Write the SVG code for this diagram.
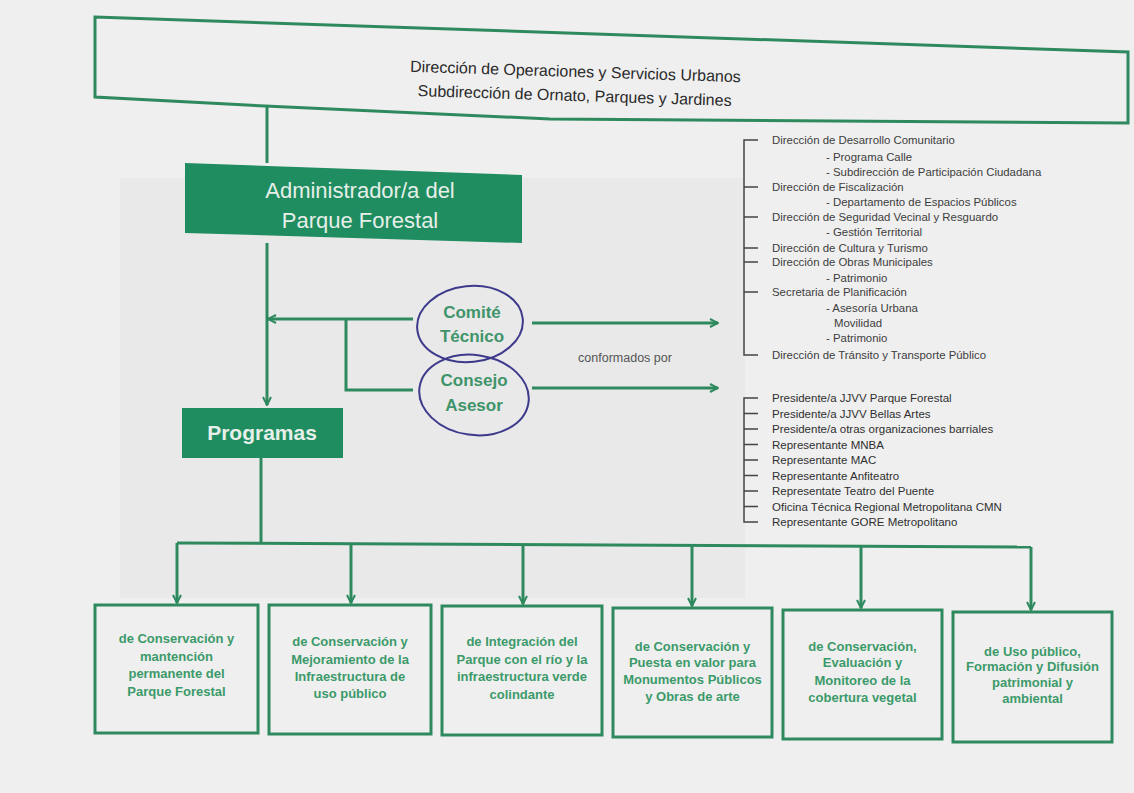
<svg xmlns="http://www.w3.org/2000/svg" width="1134" height="793" viewBox="0 0 1134 793">
<defs>
<style>
.ln{fill:none;stroke:#2e8a5e;stroke-width:3}
.box{fill:none;stroke:#2e8a5e;stroke-width:3}
.fill{fill:#1f8d60}
.bt{font-family:"Liberation Sans",Arial,sans-serif;font-size:13px;font-weight:bold;fill:#3c9a6a;text-anchor:middle}
.wt{font-family:"Liberation Sans",Arial,sans-serif;fill:#e6efe9;text-anchor:middle}
.gt{font-family:"Liberation Sans",Arial,sans-serif;font-size:17px;font-weight:bold;fill:#3f946a;text-anchor:middle}
.lt{font-family:"Liberation Sans",Arial,sans-serif;font-size:11.4px;fill:#3d3d3d}
.lt2{font-family:"Liberation Sans",Arial,sans-serif;font-size:11.5px;fill:#2f2f2f}
.br{fill:none;stroke:#444;stroke-width:1.5}
.circ{fill:none;stroke:#3d3a8c;stroke-width:2}
</style>
<marker id="arr" viewBox="0 0 10 10" refX="9" refY="5" markerWidth="10" markerHeight="10" markerUnits="userSpaceOnUse" orient="auto">
<path d="M1,1 L9,5 L1,9" fill="none" stroke="#2e8a5e" stroke-width="2"/>
</marker>
</defs>
<rect x="0" y="0" width="1134" height="793" fill="#efefef"/>
<rect x="120" y="178" width="625" height="420" fill="#e9e9e9"/>

<g id="top">
<path class="box" d="M95,17 L1128,52 L1128,123 L550,119 L265,106 L95,97 Z"/>
<g transform="rotate(1.8 575 85)" font-family="'Liberation Sans',Arial,sans-serif" font-size="16" fill="#2a2a2a" text-anchor="middle">
<text x="575" y="77">Dirección de Operaciones y Servicios Urbanos</text>
<text x="575" y="101">Subdirección de Ornato, Parques y Jardines</text>
</g>
</g>

<g id="admin">
<path class="fill" d="M185,163 L522,175 L522,243 L185,233 Z"/>
<text class="wt" x="360" y="198" font-size="22">Administrador/a del</text>
<text class="wt" x="360" y="228" font-size="22">Parque Forestal</text>
</g>

<g id="programas">
<rect class="fill" x="182" y="408" width="161" height="50"/>
<text class="wt" x="262" y="440" font-size="21" font-weight="bold">Programas</text>
</g>

<g id="comite">
<text class="gt" x="472" y="318">Comité</text>
<text class="gt" x="472" y="342">Técnico</text>
<ellipse class="circ" cx="470" cy="324" rx="53" ry="38" transform="rotate(-6 470 324)"/>
</g>

<g id="consejo">
<text class="gt" x="474" y="386">Consejo</text>
<text class="gt" x="474" y="411">Asesor</text>
<ellipse class="circ" cx="474" cy="395" rx="55" ry="40" transform="rotate(8 474 395)"/>
</g>

<g id="connectors">
<path class="ln" d="M267,106 V163"/>
<path class="ln" d="M267,243 V405" marker-end="url(#arr)"/>
<path class="ln" d="M413,319 H268" marker-end="url(#arr)"/>
<path class="ln" d="M346,319 V390 H413"/>
<path class="ln" d="M532,323 H718" marker-end="url(#arr)"/>
<path class="ln" d="M532,388 H718" marker-end="url(#arr)"/>
<path class="ln" d="M261,458 V543"/>
<path class="ln" d="M177,543 L1031,547"/>
<path class="ln" d="M177,543 V603" marker-end="url(#arr)"/>
<path class="ln" d="M351,543.8 V603" marker-end="url(#arr)"/>
<path class="ln" d="M523,544.6 V604" marker-end="url(#arr)"/>
<path class="ln" d="M692,545.4 V606" marker-end="url(#arr)"/>
<path class="ln" d="M861,546.2 V608" marker-end="url(#arr)"/>
<path class="ln" d="M1031,547 V610" marker-end="url(#arr)"/>
</g>

<text x="625" y="362" font-family="'Liberation Sans',Arial,sans-serif" font-size="12.5" fill="#555" text-anchor="middle">conformados por</text>

<g id="lista-comite">
<path class="br" d="M758,140 H744 V355 H758 M744,187 H758 M744,217 H758 M744,248 H758 M744,262 H758 M744,292 H758"/>
<text class="lt" x="772" y="144">Dirección de Desarrollo Comunitario</text>
<text class="lt" x="826" y="161">- Programa Calle</text>
<text class="lt" x="826" y="176">- Subdirección de Participación Ciudadana</text>
<text class="lt" x="772" y="191">Dirección de Fiscalización</text>
<text class="lt" x="826" y="206">- Departamento de Espacios Públicos</text>
<text class="lt" x="772" y="221">Dirección de Seguridad Vecinal y Resguardo</text>
<text class="lt" x="826" y="236">- Gestión Territorial</text>
<text class="lt" x="772" y="252">Dirección de Cultura y Turismo</text>
<text class="lt" x="772" y="266">Dirección de Obras Municipales</text>
<text class="lt" x="826" y="282">- Patrimonio</text>
<text class="lt" x="772" y="296">Secretaria de Planificación</text>
<text class="lt" x="826" y="312">- Asesoría Urbana</text>
<text class="lt" x="834" y="327">Movilidad</text>
<text class="lt" x="826" y="342">- Patrimonio</text>
<text class="lt" x="772" y="359">Dirección de Tránsito y Transporte Público</text>
</g>

<g id="lista-consejo">
<path class="br" d="M758,398 H744 V522 H758 M744,413.5 H758 M744,429 H758 M744,444.5 H758 M744,460 H758 M744,475.5 H758 M744,491 H758 M744,506.5 H758"/>
<text class="lt2" x="772" y="402">Presidente/a JJVV Parque Forestal</text>
<text class="lt2" x="772" y="417.5">Presidente/a JJVV Bellas Artes</text>
<text class="lt2" x="772" y="433">Presidente/a otras organizaciones barriales</text>
<text class="lt2" x="772" y="448.5">Representante MNBA</text>
<text class="lt2" x="772" y="464">Representante MAC</text>
<text class="lt2" x="772" y="479.5">Representante Anfiteatro</text>
<text class="lt2" x="772" y="495">Representate Teatro del Puente</text>
<text class="lt2" x="772" y="510.5">Oficina Técnica Regional Metropolitana CMN</text>
<text class="lt2" x="772" y="526">Representante GORE Metropolitano</text>
</g>

<g id="p1">
<rect class="box" x="95" y="605" width="163" height="128"/>
<text class="bt" x="176.5" y="643">de Conservación y</text>
<text class="bt" x="176.5" y="660.5">mantención</text>
<text class="bt" x="176.5" y="678">permanente del</text>
<text class="bt" x="176.5" y="695.5">Parque Forestal</text>
</g>
<g id="p2">
<rect class="box" x="269" y="605" width="162" height="129"/>
<text class="bt" x="350" y="646">de Conservación y</text>
<text class="bt" x="350" y="664">Mejoramiento de la</text>
<text class="bt" x="350" y="681">Infraestructura de</text>
<text class="bt" x="350" y="698">uso público</text>
</g>
<g id="p3">
<rect class="box" x="442" y="606" width="160" height="129"/>
<text class="bt" x="522" y="646">de Integración del</text>
<text class="bt" x="522" y="664">Parque con el río y la</text>
<text class="bt" x="522" y="681">infraestructura verde</text>
<text class="bt" x="522" y="699">colindante</text>
</g>
<g id="p4">
<rect class="box" x="613" y="608" width="159" height="129"/>
<text class="bt" x="692.5" y="651">de Conservación y</text>
<text class="bt" x="692.5" y="667">Puesta en valor para</text>
<text class="bt" x="692.5" y="684">Monumentos Públicos</text>
<text class="bt" x="692.5" y="701">y Obras de arte</text>
</g>
<g id="p5">
<rect class="box" x="783" y="610" width="159" height="129"/>
<text class="bt" x="862.5" y="651">de Conservación,</text>
<text class="bt" x="862.5" y="667">Evaluación y</text>
<text class="bt" x="862.5" y="685">Monitoreo de la</text>
<text class="bt" x="862.5" y="702">cobertura vegetal</text>
</g>
<g id="p6">
<rect class="box" x="953" y="612" width="159" height="130"/>
<text class="bt" x="1032.5" y="656">de Uso público,</text>
<text class="bt" x="1032.5" y="671">Formación y Difusión</text>
<text class="bt" x="1032.5" y="687">patrimonial y</text>
<text class="bt" x="1032.5" y="703">ambiental</text>
</g>
</svg>
